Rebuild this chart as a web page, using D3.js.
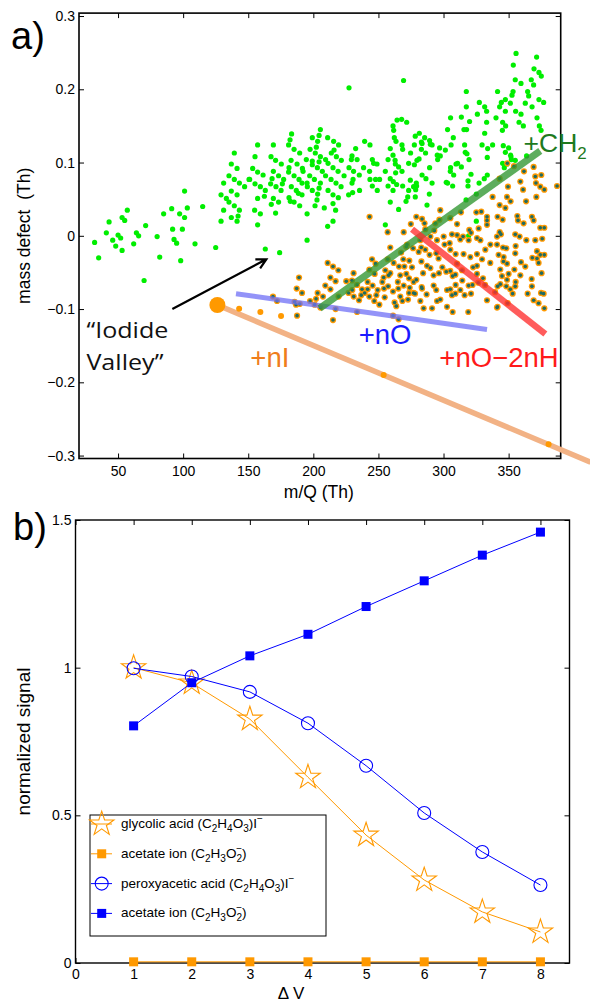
<!DOCTYPE html>
<html lang="en">
<head>
<meta charset="UTF-8">
<title>Iodide valley and normalized signal</title>
<script src="https://d3js.org/d3.v7.min.js"></script>
<style>
  body { margin: 0; background: #fff; }
  svg { display: block; font-family: "Liberation Sans", Arial, sans-serif; }
</style>
</head>
<body>
<svg id="fig" width="590" height="1003"></svg>
<script>
// ---------- panel a: [m/Q (Th), mass defect (Th)] ----------
const otherIons = [
  [139.3,0.113],[137.0,0.098],[141.4,0.092],[135.2,0.082],[131.1,0.072],[139.3,0.077],[143.2,0.072],[150.6,0.077],[147.2,0.067],[101.1,0.061],
  [129.1,0.056],[137.0,0.061],[141.4,0.056],[133.2,0.051],[135.2,0.046],[139.3,0.041],[143.2,0.035],[131.1,0.035],[142.2,0.027],[137.0,0.025],
  [129.1,0.020],[141.4,0.020],[115.0,0.040],[103.2,0.038],[91.2,0.037],[85.0,0.030],[97.3,0.030],[101.1,0.025],[57.1,0.035],[53.1,0.025],
  [55.1,0.021],[43.1,0.019],[71.2,0.014],[91.9,0.009],[99.4,0.009],[41.0,0.004],[64.1,0.004],[50.0,0.001],[65.8,0.000],[52.0,-0.003],
  [80.0,-0.001],[45.9,-0.006],[93.0,-0.005],[95.0,-0.010],[32.0,-0.009],[62.0,-0.011],[109.1,-0.011],[48.2,-0.014],[125.0,-0.016],[53.1,-0.020],
  [35.1,-0.030],[82.0,-0.029],[98.1,-0.034],[70.0,-0.061],[163.1,-0.018],[174.1,-0.023],
  [227.4,0.202],[183.3,0.139],[205.4,0.145],[182.1,0.131],[199.2,0.134],[204.4,0.137],[203.3,0.129],[211.0,0.134],[215.6,0.129],[219.4,0.124],
  [157.2,0.124],[169.3,0.124],[181.0,0.124],[202.3,0.121],[185.2,0.118],[197.5,0.118],[189.5,0.113],[201.5,0.113],[213.8,0.113],[215.9,0.117],
  [232.5,0.119],[239.4,0.129],[243.5,0.124],[155.2,0.108],[167.5,0.108],[205.4,0.108],[217.7,0.108],[229.7,0.109],[229.2,0.104],[233.6,0.104],
  [245.3,0.104],[171.0,0.103],[182.9,0.103],[194.6,0.104],[199.2,0.102],[204.4,0.101],[209.4,0.104],[221.5,0.103],[246.3,0.099],[248.9,0.098],
  [175.4,0.098],[187.5,0.098],[199.2,0.097],[211.3,0.099],[153.4,0.092],[181.3,0.093],[191.6,0.092],[203.1,0.093],[215.1,0.093],[227.4,0.093],
  [238.6,0.093],[169.3,0.088],[157.2,0.087],[181.0,0.087],[192.1,0.088],[206.9,0.088],[219.0,0.088],[230.9,0.088],[243.2,0.088],[255.3,0.088],
  [161.4,0.083],[173.3,0.082],[185.2,0.082],[197.2,0.082],[209.4,0.082],[223.6,0.082],[235.3,0.083],[151.1,0.077],[168.3,0.078],[177.2,0.077],
  [189.0,0.077],[200.8,0.077],[213.6,0.077],[230.5,0.077],[243.5,0.077],[247.8,0.077],[250.9,0.077],[259.1,0.078],[155.2,0.071],[167.2,0.071],
  [176.2,0.071],[191.3,0.072],[195.2,0.072],[205.4,0.072],[217.4,0.072],[229.7,0.072],[159.3,0.067],[171.3,0.067],[183.1,0.067],[195.4,0.067],
  [204.4,0.065],[221.3,0.067],[245.3,0.068],[257.4,0.068],[163.1,0.062],[175.2,0.062],[186.9,0.062],[199.2,0.062],[211.3,0.062],[230.2,0.059],
  [235.5,0.062],[249.1,0.062],[261.2,0.062],[191.3,0.056],[203.3,0.057],[215.1,0.056],[227.1,0.056],[157.2,0.051],[169.3,0.051],[181.3,0.052],
  [219.2,0.052],[162.4,0.054],[167.7,0.043],[173.3,0.046],[185.2,0.046],[202.8,0.049],[215.1,0.044],[259.1,0.046],[154.9,0.035],[189.5,0.041],
  [201.3,0.041],[208.4,0.038],[217.1,0.035],[159.3,0.030],[171.0,0.031],[195.2,0.030],[215.1,0.020],[157.2,0.015],[211.0,0.013],[255.3,0.015],
  [265.5,0.036],[264.3,0.158],[261.2,0.150],[261.7,0.144],[262.2,0.134],[263.5,0.129],[259.1,0.119],[261.2,0.110],[262.8,0.103],[263.0,0.098],
  [263.2,0.086],[261.4,0.074],[264.0,0.070],[257.4,0.104],[182.3,0.047],[188.5,0.058],[195.2,-0.006],[271.2,0.047],
  [355.7,0.249],[371.5,0.244],[353.6,0.233],[369.5,0.228],[373.3,0.223],[375.1,0.218],[355.1,0.213],[359.5,0.208],[367.4,0.213],[369.2,0.206],
  [269.3,0.212],[317.5,0.197],[341.5,0.197],[353.4,0.197],[352.6,0.192],[364.6,0.197],[365.4,0.191],[347.5,0.186],[373.3,0.186],[376.9,0.182],
  [327.5,0.182],[331.6,0.176],[344.4,0.182],[351.3,0.181],[362.8,0.181],[368.0,0.176],[317.5,0.176],[333.1,0.170],[343.1,0.176],[347.5,0.170],
  [355.4,0.170],[326.0,0.166],[359.5,0.166],[305.4,0.161],[313.7,0.162],[340.3,0.161],[371.8,0.161],[267.8,0.159],[271.7,0.155],[320.0,0.156],
  [333.1,0.155],[345.4,0.155],[358.0,0.155],[347.7,0.150],[361.3,0.150],[373.6,0.150],[315.7,0.145],[317.7,0.145],[303.1,0.145],[345.2,0.144],
  [374.9,0.144],[331.6,0.140],[281.4,0.140],[278.3,0.136],[285.5,0.134],[307.5,0.134],[289.3,0.130],[283.0,0.128],[291.2,0.124],[316.2,0.124],
  [329.6,0.124],[337.7,0.124],[345.9,0.123],[350.0,0.120],[301.4,0.117],[268.1,0.124],[277.6,0.124],[268.6,0.118],[274.7,0.113],[283.0,0.118],
  [297.5,0.109],[316.7,0.114],[333.9,0.119],[351.8,0.108],[281.2,0.105],[295.5,0.104],[345.4,0.099],[355.1,0.103],[273.2,0.099],[310.8,0.099],
  [265.5,0.094],[268.1,0.088],[346.7,0.093],[289.3,0.093],[305.4,0.093],[313.7,0.094],[283.5,0.083],[321.1,0.084],[333.6,0.083],[274.5,0.076],
  [331.3,0.078],[303.1,0.072],[307.0,0.068],[318.8,0.068],[327.3,0.072],[268.6,0.068],[277.0,0.067],[279.3,0.068],[273.2,0.062],[278.3,0.053],
  [272.5,0.053],[325.2,0.057],[287.3,0.042],[319.3,0.000],
  [289.9,0.125],[283.5,0.126],[286.2,0.113],[279.6,0.103],[277.6,0.097],[286.5,0.078],[279.1,0.072],[291.2,0.072],[278.6,0.063],[289.1,0.057],
  [297.0,0.120],[295.2,0.110],[305.8,0.124],[318.0,0.112],[319.6,0.104],[309.6,0.098],[305.2,0.088],[307.8,0.083],[302.1,0.073],[333.6,0.107],
  [318.8,0.075],[347.5,0.114],[351.5,0.110],[348.8,0.098],[352.1,0.104],[363.8,0.109],[317.3,0.049],[325.2,0.020]
];

const iodideAdducts = [
  [243.2,0.026],[257.1,0.005],[269.4,0.005],[259.1,-0.016],[267.4,-0.023],[271.4,-0.015],[245.1,-0.032],[257.1,-0.032],[261.7,-0.037],[269.1,-0.032],
  [265.8,-0.042],[269.9,-0.042],[275.8,-0.043],[273.7,-0.034],[211.0,-0.037],[215.1,-0.042],[219.2,-0.047],[243.0,-0.046],[255.3,-0.047],[259.1,-0.051],
  [247.1,-0.052],[271.4,-0.052],[266.8,-0.054],[230.9,-0.051],[189.0,-0.057],[213.1,-0.057],[254.0,-0.057],[257.8,-0.054],[217.1,-0.062],[225.3,-0.062],
  [241.7,-0.063],[253.0,-0.063],[257.4,-0.069],[264.9,-0.063],[269.4,-0.068],[274.0,-0.071],[277.0,-0.063],[187.2,-0.072],[209.2,-0.068],[213.1,-0.073],
  [233.6,-0.067],[237.4,-0.073],[245.5,-0.068],[249.4,-0.074],[265.3,-0.072],[261.2,-0.076],[191.3,-0.078],[203.3,-0.078],[227.1,-0.078],[231.0,-0.083],
  [239.4,-0.078],[243.0,-0.083],[254.8,-0.084],[266.8,-0.083],[273.5,-0.078],[277.0,-0.078],[202.1,-0.086],[207.4,-0.083],[219.4,-0.083],[235.1,-0.088],
  [246.8,-0.089],[197.5,-0.089],[250.7,-0.094],[262.4,-0.091],[263.7,-0.096],[169.0,-0.083],[172.1,-0.089],[185.6,-0.090],[189.5,-0.093],[186.7,-0.094],
  [201.0,-0.094],[205.4,-0.098],[217.1,-0.100],[233.6,-0.104],[187.5,-0.109],[215.1,-0.115],[261.2,-0.109],[265.5,-0.114],
  [247.8,-0.038],[273.5,-0.058],[229.7,-0.061],[229.9,-0.074],[241.7,-0.073],[254.3,-0.072],[283.5,-0.072],[236.8,-0.081],[248.4,-0.081],[287.0,-0.080],
  [268.4,-0.089],[272.7,-0.087],[295.0,-0.089],[306.5,-0.081],[302.7,-0.074],[291.2,-0.099],[307.0,-0.104],[319.0,-0.104],[309.3,-0.067],[312.9,-0.074],
  [316.2,-0.081],[322.3,-0.067],[321.1,-0.079],[330.3,-0.058],[326.7,-0.064],[331.9,-0.067],[333.4,-0.088],[341.1,-0.098],[339.6,-0.077],[343.6,-0.066],
  [348.2,-0.069],[351.3,-0.073],[353.1,-0.079],[349.2,-0.092],[355.4,-0.063],[359.5,-0.036],[362.8,-0.042],[359.0,-0.054],[367.7,-0.059],[371.8,-0.021],
  [374.3,-0.026],[377.4,-0.026],[373.0,-0.037],[375.3,-0.051],[374.9,-0.078],[369.2,-0.088],[373.0,-0.092],[377.4,-0.099],[341.1,-0.001],[344.1,0.002],
  [355.1,0.002],[358.4,-0.001],[363.6,-0.006],[370.5,-0.006],[328.3,-0.006],[336.0,-0.012],[341.1,-0.012],[348.2,-0.017],[355.4,-0.014],[315.4,-0.025],
  [320.6,-0.029],[325.7,-0.025],[332.1,-0.019],[329.6,-0.032],[342.3,-0.026],[346.2,-0.029],[335.9,-0.037],[343.6,-0.046],[354.4,-0.046],[348.8,-0.038],
  [350.0,-0.052],[300.8,-0.012],[305.2,-0.019],[309.3,-0.025],[310.4,-0.038],[314.2,-0.047],[322.7,-0.043],[325.7,-0.052],[286.0,-0.019],[289.3,-0.026],
  [296.2,-0.031],[283.0,-0.035],[287.3,-0.041],[299.1,-0.043],[302.1,-0.049],[296.5,-0.051],[289.9,-0.001],[295.0,-0.006],[282.2,-0.006],[272.0,-0.012],
  [276.6,-0.017],[280.9,-0.022],[315.0,-0.001],[319.3,-0.006],[321.1,0.004],[306.5,0.002],
  [349.0,0.099],[354.1,0.095],[361.8,0.088],[369.2,0.094],[370.5,0.081],[374.3,0.067],[377.4,0.063],[387.2,0.068],[359.0,0.074],[349.5,0.067],
  [348.8,0.053],[351.5,0.047],[363.4,0.047],[371.3,0.053],[343.1,0.042],[341.5,0.026],[345.4,0.022],[357.2,0.021],[361.5,0.017],[369.2,0.021],
  [374.3,0.011],[377.4,0.011],[329.0,0.033],[333.4,0.021],[343.1,0.005],[375.8,-0.004],[371.8,-0.031],[368.2,-0.030],[325.7,-0.003],[345.7,-0.016],
  [355.1,-0.024],[346.0,-0.035],[325.7,-0.041],[310.4,0.016],[312.9,-0.005],[310.4,0.001],[319.8,0.008],[327.0,0.010],[325.2,0.032],[297.5,0.035],
  [313.4,0.032],[305.2,0.024],[296.8,0.022],[293.7,0.017],[292.9,0.007],[300.1,-0.001],[304.7,-0.010],[286.0,0.009],[283.5,0.023],[279.1,0.026],
  [282.9,-0.016],[294.4,-0.024],[305.2,-0.048],[309.1,-0.053],[314.4,-0.061],[319.3,-0.068],[341.5,-0.069],[344.9,-0.055],[348.8,-0.060],[355.1,-0.069],
  [367.9,-0.069],[364.6,-0.079],[341.5,-0.097],[376.9,-0.079],[289.9,-0.044],[284.3,-0.051],[292.4,-0.054],[279.1,-0.060],[283.2,-0.070],[292.4,-0.068],
  [294.4,-0.074],[305.2,-0.073],[309.1,-0.079],[278.1,-0.079],[282.2,-0.089],[297.5,-0.087],[302.7,-0.097],[284.7,-0.099],[307.0,-0.055],
  [375.1,0.083],[343.1,0.078],[361.1,0.063],[371.0,0.072],[337.7,0.053],[347.5,0.038],[356.7,0.027],[367.9,0.026],[333.4,0.015],[333.4,0.026],
  [274.9,0.016],[285.4,0.017]
];

// bare iodide (I-) and the +nI series
const iodideIon = [[126.3, -0.0945]];
const iodideClusters = [[143.0,-0.0995],[159.3,-0.104],[175.2,-0.1095],[254.0,-0.190],[380.7,-0.2847]];

// guide lines, start and end in data units
const lineNI  = [[126.3,-0.0945],[413.0,-0.309]];
const lineNO  = [[140.6,-0.079],[333.4,-0.128]];
const lineCH2 = [[204.8,-0.099],[374.3,0.116]];
const lineO2H = [[275.8,0.009],[378.2,-0.134]];
const valleyArrow = [[91.7,-0.100],[163.9,-0.032]];

const xTicksA = [50, 100, 150, 200, 250, 300, 350];
const yTicksA = [-0.3, -0.2, -0.1, 0, 0.1, 0.2, 0.3];

// ---------- panel b ----------
const deltaV = [1, 2, 3, 4, 5, 6, 7, 8];
const glycolicI = [1.0, 0.948, 0.826, 0.629, 0.433, 0.281, 0.173, 0.105];
const acetateOrange = [0.004, 0.004, 0.004, 0.004, 0.004, 0.004, 0.004, 0.004];
const peroxyI = [0.998, 0.970, 0.918, 0.812, 0.668, 0.508, 0.376, 0.264];
const acetateBlue = [0.803, 0.949, 1.040, 1.113, 1.207, 1.294, 1.381, 1.459];
const xTicksB = [0, 1, 2, 3, 4, 5, 6, 7, 8];
const yTicksB = [0, 0.5, 1, 1.5];

// legend labels: [text, kind]  n = normal, b = subscript, p = superscript, bp = superscript stacked on subscript
const legendLabels = [
  [["glycolic acid (C","n"],["2","b"],["H","n"],["4","b"],["O","n"],["3","b"],[")I","n"],["\u2212","p"]],
  [["acetate ion (C","n"],["2","b"],["H","n"],["3","b"],["O","n"],["2","b"],["\u2212","bp"],[")","n"]],
  [["peroxyacetic acid (C","n"],["2","b"],["H","n"],["4","b"],["O","n"],["3","b"],[")I","n"],["\u2212","p"]],
  [["acetate ion (C","n"],["2","b"],["H","n"],["3","b"],["O","n"],["2","b"],["\u2212","bp"],[")","n"]]
];

const ORANGE = '#ff9900';
const BLUE = '#0000ff';
const FONT = '"Liberation Sans", Arial, sans-serif';

const svg = d3.select('#fig');

// =============== panel a ===============
const xa = d3.scaleLinear().domain([20, 390]).range([79, 560.7]);
const ya = d3.scaleLinear().domain([-0.304, 0.304]).range([458.5, 13.1]);

function styleAxis(g, size) {
  g.attr('font-size', size).attr('font-family', FONT);
  g.select('.domain').remove();
  g.selectAll('.tick line').attr('stroke-width', 1);
  g.selectAll('.tick text').attr('fill', '#000');
}

const fmtA = d => d === 0 ? '0' : d3.format('.1f')(d);

svg.append('g').attr('transform', `translate(0,${ya.range()[0]})`)
  .call(d3.axisBottom(xa).tickValues(xTicksA).tickSize(-5).tickPadding(8).tickFormat(d3.format('d')))
  .call(g => styleAxis(g, 14));
svg.append('g').attr('transform', `translate(0,${ya.range()[1]})`)
  .call(d3.axisTop(xa).tickValues(xTicksA).tickSize(-5).tickFormat(''))
  .call(g => styleAxis(g, 14));
svg.append('g').attr('transform', `translate(${xa.range()[0]},0)`)
  .call(d3.axisLeft(ya).tickValues(yTicksA).tickSize(-5).tickPadding(4).tickFormat(fmtA))
  .call(g => styleAxis(g, 14));
svg.append('g').attr('transform', `translate(${xa.range()[1]},0)`)
  .call(d3.axisRight(ya).tickValues(yTicksA).tickSize(-5).tickFormat(''))
  .call(g => styleAxis(g, 14));

svg.append('rect')
  .attr('x', xa.range()[0]).attr('y', ya.range()[1])
  .attr('width', xa.range()[1] - xa.range()[0]).attr('height', ya.range()[0] - ya.range()[1])
  .attr('fill', 'none').attr('stroke', '#000').attr('stroke-width', 1.6);

// points
svg.append('g').selectAll('circle').data(otherIons).join('circle')
  .attr('cx', d => xa(d[0])).attr('cy', d => ya(d[1])).attr('r', 2.6)
  .attr('fill', '#00ee00');

const adG = svg.append('g');
adG.selectAll('circle.o').data(iodideAdducts).join('circle').attr('class', 'o')
  .attr('cx', d => xa(d[0])).attr('cy', d => ya(d[1])).attr('r', 3.1)
  .attr('fill', ORANGE);
adG.selectAll('circle.i').data(iodideAdducts).join('circle').attr('class', 'i')
  .attr('cx', d => xa(d[0])).attr('cy', d => ya(d[1])).attr('r', 1.8)
  .attr('fill', '#1f6b62');

const seg = d3.line().x(d => xa(d[0])).y(d => ya(d[1]));

svg.append('path').attr('d', seg(lineNI)).attr('stroke', '#f2b285').attr('stroke-width', 5.5).attr('fill', 'none');

svg.append('g').selectAll('circle').data(iodideClusters).join('circle')
  .attr('cx', d => xa(d[0])).attr('cy', d => ya(d[1])).attr('r', 3)
  .attr('fill', ORANGE);
svg.append('g').selectAll('circle').data(iodideIon).join('circle')
  .attr('cx', d => xa(d[0])).attr('cy', d => ya(d[1])).attr('r', 8)
  .attr('fill', ORANGE);

svg.append('path').attr('d', seg(lineNO)).attr('stroke', '#6f6ff5').attr('stroke-opacity', 0.75)
  .attr('stroke-width', 5).attr('fill', 'none');
svg.append('path').attr('d', seg(lineCH2)).attr('stroke', '#2f962f').attr('stroke-opacity', 0.78)
  .attr('stroke-width', 7).attr('fill', 'none');
svg.append('path').attr('d', seg(lineO2H)).attr('stroke', '#ff2e2e').attr('stroke-opacity', 0.78)
  .attr('stroke-width', 6.5).attr('fill', 'none');

// arrow to the iodide valley
{
  const p0 = [xa(valleyArrow[0][0]), ya(valleyArrow[0][1])];
  const p1 = [xa(valleyArrow[1][0]), ya(valleyArrow[1][1])];
  const ang = Math.atan2(p1[1] - p0[1], p1[0] - p0[0]);
  const hl = 11, sp = Math.PI / 6.5;
  const a1 = [p1[0] - hl * Math.cos(ang - sp), p1[1] - hl * Math.sin(ang - sp)];
  const a2 = [p1[0] - hl * Math.cos(ang + sp), p1[1] - hl * Math.sin(ang + sp)];
  svg.append('path')
    .attr('d', `M${p0}L${p1}M${a1}L${p1}L${a2}`)
    .attr('stroke', '#000').attr('stroke-width', 2.2).attr('fill', 'none');
}

// annotations
const ann = svg.append('g').attr('font-size', 27.5);
ann.append('text').attr('x', xa(361.5)).attr('y', ya(0.114)).attr('fill', '#1e7a1e').attr('font-size', 26.5)
  .text('+CH').append('tspan').attr('font-size', 17).attr('dy', 7).text('2');
ann.append('text').attr('x', xa(234.8)).attr('y', ya(-0.148)).attr('fill', '#1a1aff').text('+nO');
ann.append('text').attr('x', xa(296.8)).attr('y', ya(-0.1795)).attr('fill', '#ff1a1a').text('+nO\u22122nH');
ann.append('text').attr('x', xa(151.6)).attr('y', ya(-0.1795)).attr('fill', '#ef7d1b').text('+nI');

const valley = svg.append('g').attr('font-family', '"Open Sans", Lato, sans-serif').attr('font-size', 22).attr('fill', '#111');
valley.append('text').attr('x', xa(25.7)).attr('y', ya(-0.140)).attr('textLength', 82).attr('lengthAdjust', 'spacingAndGlyphs').text('\u201CIodide');
valley.append('text').attr('x', xa(25.7)).attr('y', ya(-0.183)).attr('textLength', 77).attr('lengthAdjust', 'spacingAndGlyphs').text('Valley\u201D');

// axis titles
svg.append('text').attr('x', (xa.range()[0] + xa.range()[1]) / 2 - 1).attr('y', 498)
  .attr('text-anchor', 'middle').attr('font-size', 17.5).text('m/Q (Th)');
svg.append('text').attr('transform', `translate(30,${ya(0)}) rotate(-90)`)
  .attr('text-anchor', 'middle').attr('font-size', 17.5).attr('xml:space', 'preserve').text('mass defect  (Th)');
svg.append('text').attr('x', 11).attr('y', 49).attr('font-size', 38).text('a)');

// =============== panel b ===============
const xb = d3.scaleLinear().domain([0, 8.5]).range([75.5, 569.5]);
const yb = d3.scaleLinear().domain([0, 1.5]).range([963, 520]);

svg.append('g').attr('transform', `translate(0,${yb.range()[0]})`)
  .call(d3.axisBottom(xb).tickValues(xTicksB).tickSize(-5).tickPadding(6).tickFormat(d3.format('d')))
  .call(g => styleAxis(g, 14));
svg.append('g').attr('transform', `translate(0,${yb.range()[1]})`)
  .call(d3.axisTop(xb).tickValues(xTicksB).tickSize(-5).tickFormat(''))
  .call(g => styleAxis(g, 14));
svg.append('g').attr('transform', `translate(${xb.range()[0]},0)`)
  .call(d3.axisLeft(yb).tickValues(yTicksB).tickSize(-5).tickPadding(4).tickFormat(d3.format('~g')))
  .call(g => styleAxis(g, 14));
svg.append('g').attr('transform', `translate(${xb.range()[1]},0)`)
  .call(d3.axisRight(yb).tickValues(yTicksB).tickSize(-5).tickFormat(''))
  .call(g => styleAxis(g, 14));

svg.append('rect')
  .attr('x', xb.range()[0]).attr('y', yb.range()[1])
  .attr('width', xb.range()[1] - xb.range()[0]).attr('height', yb.range()[0] - yb.range()[1])
  .attr('fill', 'none').attr('stroke', '#000').attr('stroke-width', 1.4);

const series = [
  { values: glycolicI, color: ORANGE, marker: 'star' },
  { values: acetateOrange, color: ORANGE, marker: 'square' },
  { values: peroxyI, color: BLUE, marker: 'circle' },
  { values: acetateBlue, color: BLUE, marker: 'square' }
];

function drawMarker(g, kind, color, x, y) {
  if (kind === 'star') {
    g.append('path').attr('transform', `translate(${x},${y})`)
      .attr('d', d3.symbol(d3.symbolStar, 185)()).attr('fill', 'none').attr('stroke', color).attr('stroke-width', 1.1);
  } else if (kind === 'circle') {
    g.append('circle').attr('cx', x).attr('cy', y).attr('r', 6.5)
      .attr('fill', 'none').attr('stroke', color).attr('stroke-width', 1.1);
  } else {
    g.append('rect').attr('x', x - 4.5).attr('y', y - 4.5).attr('width', 9).attr('height', 9).attr('fill', color);
  }
}

const lineB = d3.line().x((d, i) => xb(deltaV[i])).y(d => yb(d));
series.forEach(s => {
  const g = svg.append('g');
  g.append('path').attr('d', lineB(s.values)).attr('stroke', s.color).attr('stroke-width', 1).attr('fill', 'none');
  s.values.forEach((v, i) => drawMarker(g, s.marker, s.color, xb(deltaV[i]), yb(v)));
});

// legend
const leg = svg.append('g');
leg.append('rect').attr('x', 90).attr('y', 815).attr('width', 236).attr('height', 121)
  .attr('fill', '#fff').attr('stroke', '#000').attr('stroke-width', 1);
series.forEach((s, k) => {
  const y = 824 + k * 29.8;
  leg.append('line').attr('x1', 91).attr('x2', 112).attr('y1', y).attr('y2', y).attr('stroke', s.color).attr('stroke-width', 1);
  drawMarker(leg, s.marker, s.color, 101.7, y);
  const t = leg.append('text').attr('x', 121).attr('y', y + 4).attr('font-size', 13.5);
  let level = 0;
  legendLabels[k].forEach(([txt, kind]) => {
    const sp = t.append('tspan').text(txt);
    if (kind === 'n') { sp.attr('dy', -level); level = 0; }
    else if (kind === 'b') { sp.attr('font-size', 10).attr('dy', 4 - level); level = 4; }
    else if (kind === 'p') { sp.attr('font-size', 10).attr('dy', -6 - level); level = -6; }
    else { sp.attr('font-size', 10).attr('dx', -5.8).attr('dy', -6 - level); level = -6; }
  });
});

// axis titles
svg.append('text').attr('transform', `translate(30,${yb(0.75)}) rotate(-90)`)
  .attr('text-anchor', 'middle').attr('font-size', 19).text('normalized signal');
svg.append('text').attr('x', 291).attr('y', 999).attr('text-anchor', 'middle').attr('font-size', 17).text('\u0394 V');
svg.append('text').attr('x', 13).attr('y', 540).attr('font-size', 38).text('b)');
</script>
</body>
</html>
